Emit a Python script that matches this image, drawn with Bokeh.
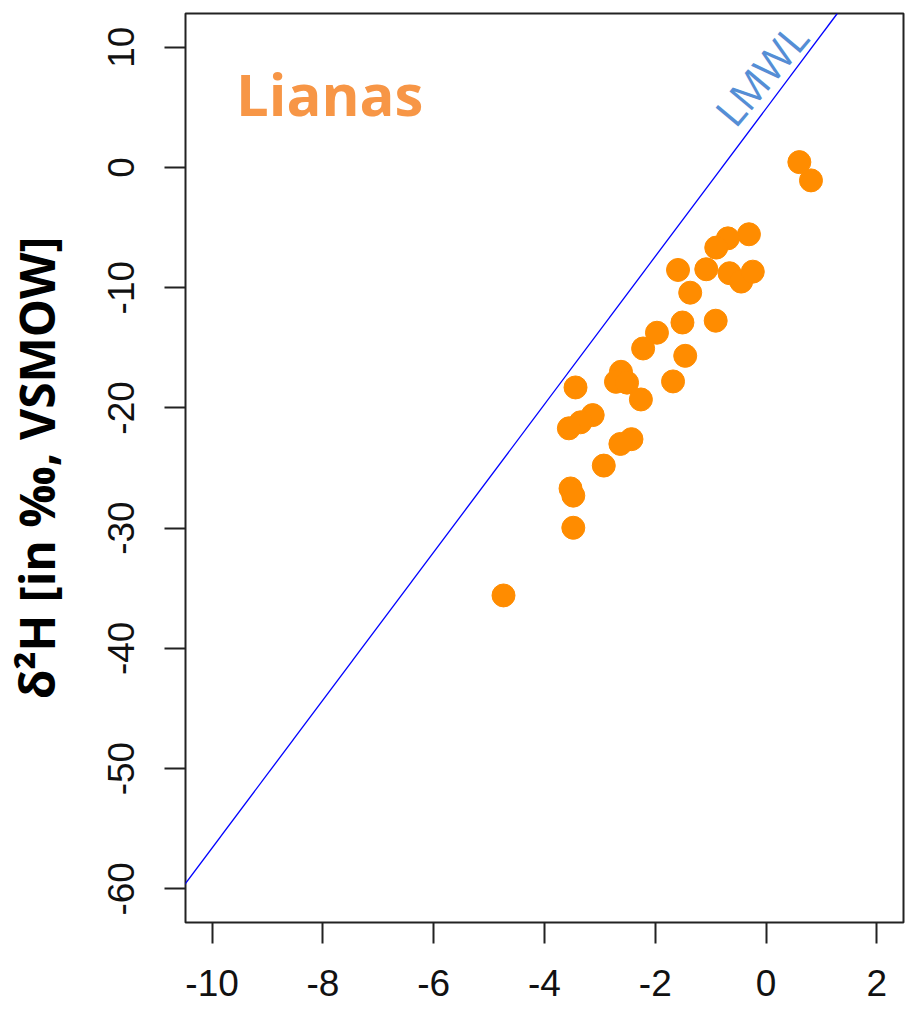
from bokeh.plotting import figure
from bokeh.models import Range1d, FixedTicker, Slope, Label
from bokeh.embed import file_html
from bokeh.resources import INLINE
import math

# Stable-isotope composition of liana xylem water
d18O = [-0.31, -0.69, -0.90, -1.59, -1.08, -0.66, -0.45, -0.24, -1.37, -1.51,
        -0.91, -1.97, -2.22, -1.46, -2.62, -2.71, -2.51, -1.68, -3.44, -2.26,
        -3.13, -3.35, -3.56, -2.43, -2.63, -2.93, -3.53, -3.48, -3.48, -4.74,
        0.60, 0.81]
d2H = [-5.56, -5.90, -6.67, -8.53, -8.47, -8.80, -9.50, -8.67, -10.42, -12.90,
       -12.75, -13.75, -15.06, -15.67, -17.00, -17.83, -17.90, -17.80, -18.30, -19.30,
       -20.60, -21.20, -21.70, -22.60, -23.00, -24.80, -26.70, -27.30, -29.97, -35.60,
       0.44, -1.08]

# Local meteoric water line: d2H = slope * d18O + intercept
lmwl_slope = 6.15
lmwl_intercept = 4.9

x_ticks = [-10, -8, -6, -4, -2, 0, 2]
y_ticks = [-60, -50, -40, -30, -20, -10, 0, 10]

p = figure(width=911, height=1017, output_backend="svg", toolbar_location=None,
           x_range=Range1d(-10.48, 2.48), y_range=Range1d(-62.8, 12.8),
           min_border_left=185, min_border_right=8, min_border_top=13,
           min_border_bottom=95)

p.background_fill_color = "white"
p.border_fill_color = "white"
p.outline_line_color = "#222222"
p.outline_line_width = 2
p.xgrid.visible = False
p.ygrid.visible = False

for ax in (p.xaxis[0], p.yaxis[0]):
    ax.axis_line_color = None
    ax.major_tick_line_color = "#222222"
    ax.major_tick_line_width = 2
    ax.major_tick_out = 21
    ax.major_tick_in = 0
    ax.minor_tick_line_color = None
    ax.major_label_text_font = "Liberation Sans"
    ax.major_label_text_font_size = "37px"
    ax.major_label_text_color = "#111111"

# plain hyphen-minus tick labels
p.xaxis.ticker = FixedTicker(ticks=x_ticks)
p.yaxis.ticker = FixedTicker(ticks=y_ticks)
p.xaxis.major_label_overrides = {t: str(t) for t in x_ticks}
p.yaxis.major_label_overrides = {t: str(t) for t in y_ticks}
p.xaxis.major_label_standoff = 26
p.yaxis.major_label_standoff = 30
p.yaxis.major_label_orientation = "vertical"

p.yaxis.axis_label = "δ²H [in ‰, VSMOW]"
p.yaxis.axis_label_text_font = "Open Sans"
p.yaxis.axis_label_text_font_style = "bold"
p.yaxis.axis_label_text_font_size = "48px"
p.yaxis.axis_label_text_color = "black"
p.yaxis.axis_label_standoff = 37

p.add_layout(Slope(gradient=lmwl_slope, y_intercept=lmwl_intercept,
                   line_color="#0000FF", line_width=1.3))

p.scatter(d18O, d2H, size=23, marker="circle", fill_color="#FF8C00",
          line_color="#FF8C00")

p.add_layout(Label(x=-9.57, y=6.15, text="Lianas", text_font="Open Sans",
                   text_font_style="bold", text_font_size="58px",
                   text_color="#F79646", text_baseline="alphabetic"))

p.add_layout(Label(x=-0.09, y=7.75, text="LMWL", text_font="Open Sans",
                   text_font_size="41px", text_color="#558ED5",
                   text_align="center", text_baseline="middle",
                   angle=math.radians(50)))

open("out.html", "w").write(file_html(p, INLINE))
